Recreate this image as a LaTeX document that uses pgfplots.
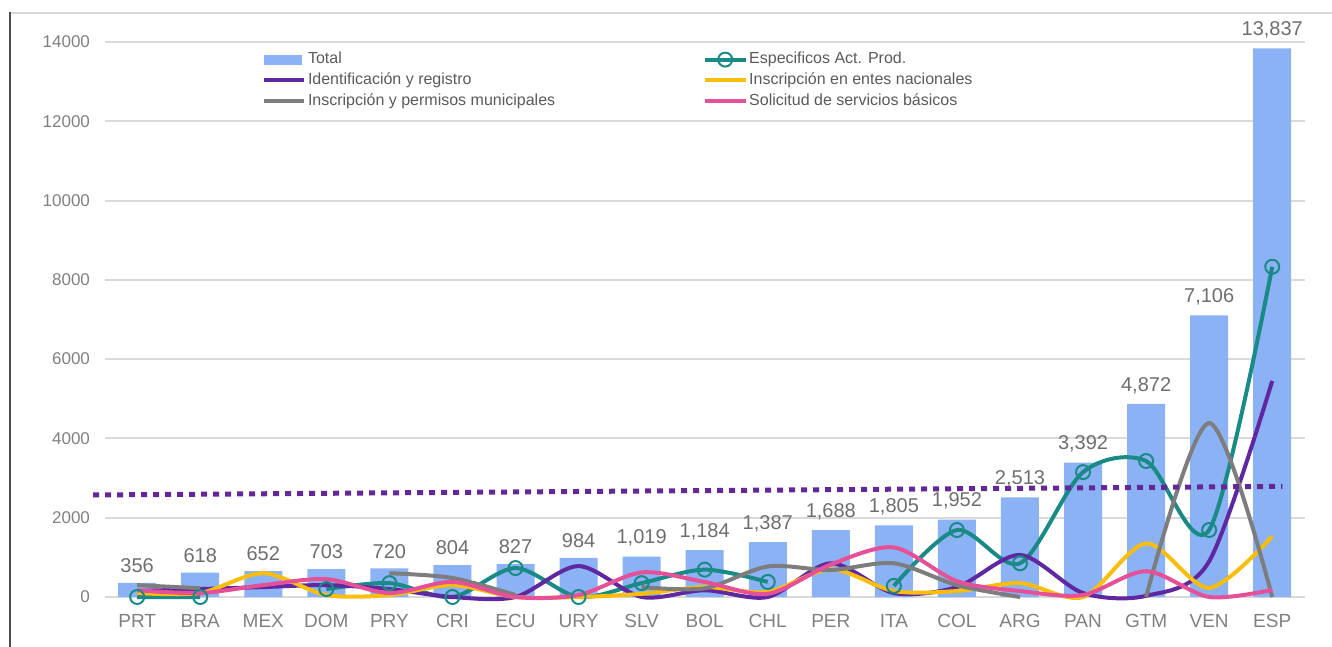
\documentclass[border=0pt]{standalone}
\usepackage{fontspec}
\setmainfont{Liberation Sans}
\usepackage{pgfplots}
\pgfplotsset{compat=1.18}

\definecolor{barblue}{RGB}{138,178,245}
\definecolor{cteal}{RGB}{26,138,134}
\definecolor{cpurple}{RGB}{95,40,160}
\definecolor{cyellow}{RGB}{250,190,10}
\definecolor{cgray}{RGB}{125,125,125}
\definecolor{cpink}{RGB}{230,80,150}
\definecolor{dotpurple}{RGB}{100,40,150}
\definecolor{tickgray}{RGB}{128,128,128}
\definecolor{labgray}{RGB}{110,110,110}
\definecolor{leggray}{RGB}{90,90,90}

\begin{document}
\begin{tikzpicture}
% frame of the original slide
\draw[black!15, line width=1pt] (5pt,317pt) -- (666pt,317pt);
\draw[black!70, line width=1pt] (5pt,317.5pt) -- (5pt,0pt);

\begin{axis}[
    at={(52.5pt,25pt)}, anchor=south west,
    scale only axis, width=600pt, height=277.5pt,
    xmin=-0.51, xmax=18.52, ymin=0, ymax=14000,
    clip=false,
    axis line style={draw=none},
    tick style={draw=none},
    ytick={0,2000,...,14000},
    scaled y ticks=false,
    xtick={0,...,18},
    xticklabels={PRT,BRA,MEX,DOM,PRY,CRI,ECU,URY,SLV,BOL,CHL,PER,ITA,COL,ARG,PAN,GTM,VEN,ESP},
    ymajorgrids,
    grid style={black!15, line width=1pt},
    /pgf/number format/assume math mode=true,
    /pgf/number format/1000 sep={},
    yticklabel style={font=\fontsize{8.5}{10}\selectfont, text=tickgray},
    xticklabel style={font=\fontsize{9.5}{11}\selectfont, text=tickgray},
    yticklabel shift=4pt,
    xticklabel shift=5pt,
    unbounded coords=jump,
    legend columns=2,
    legend cell align=left,
    legend style={at={(0.1255,0.993)}, anchor=north west, draw=none, fill=none,
        font=\fontsize{8}{9}\selectfont, text=leggray,
        nodes={inner sep=1pt}, row sep=0.9pt,
        /tikz/every even column/.append style={column sep=73pt}},
    legend image code/.code={\draw[mark repeat=2, mark phase=2, #1] plot coordinates {(0pt,0pt) (10pt,0pt) (20pt,0pt)};},
]
\addplot[ybar, bar width=19pt, fill=barblue, draw=none,
    nodes near coords={\pgfmathprintnumber[1000 sep={,}]{\pgfplotspointmeta}},
    every node near coord/.append style={font=\fontsize{10}{12}\selectfont, text=labgray, yshift=1.5pt},
    legend image code/.code={\fill[barblue] (0pt,-2.5pt) rectangle (19pt,2.5pt);}]
coordinates {(0,356) (1,618) (2,652) (3,703) (4,720) (5,804) (6,827) (7,984) (8,1019) (9,1184)
 (10,1387) (11,1688) (12,1805) (13,1952) (14,2513) (15,3392) (16,4872) (17,7106) (18,13837)};
\addlegendentry{Total}

\addplot[cteal, line width=2pt, smooth, mark=o, mark size=3.5pt, mark options={line width=1pt}]
coordinates {(0,0) (1,0) (2,nan) (3,200) (4,350) (5,0) (6,730) (7,0) (8,350) (9,690)
 (10,380) (11,nan) (12,280) (13,1690) (14,850) (15,3150) (16,3430) (17,1690) (18,8330)};
\addlegendentry{Especificos Act. Prod.}

\addplot[cpurple, line width=2pt, smooth]
coordinates {(0,150) (1,200) (2,250) (3,300) (4,200) (5,0) (6,0) (7,780) (8,0) (9,170)
 (10,0) (11,850) (12,100) (13,250) (14,1060) (15,100) (16,30) (17,900) (18,5450)};
\addlegendentry{Identificación y registro}

\addplot[cyellow, line width=2pt, smooth]
coordinates {(0,100) (1,100) (2,600) (3,50) (4,50) (5,300) (6,0) (7,0) (8,80) (9,250)
 (10,130) (11,700) (12,150) (13,150) (14,350) (15,0) (16,1350) (17,230) (18,1530)};
\addlegendentry{Inscripción en entes nacionales}

\addplot[cgray, line width=2pt, smooth]
coordinates {(0,300) (1,220) (2,nan) (3,nan) (4,600) (5,480) (6,50) (7,nan) (8,250) (9,220)
 (10,770) (11,680) (12,850) (13,300) (14,0) (15,nan) (16,0) (17,4390) (18,0)};
\addlegendentry{Inscripción y permisos municipales}

\addplot[cpink, line width=2pt, smooth]
coordinates {(0,170) (1,100) (2,300) (3,450) (4,100) (5,380) (6,0) (7,50) (8,620) (9,380)
 (10,80) (11,820) (12,1250) (13,400) (14,150) (15,50) (16,650) (17,0) (18,180)};
\addlegendentry{Solicitud de servicios básicos}

\addplot[dotpurple, line width=2.5pt, dash pattern=on 3pt off 3pt, forget plot]
coordinates {(-0.70,2573) (18.16,2790)};
\end{axis}
\pgfresetboundingbox
\useasboundingbox (0pt,0pt) rectangle (666pt,323.5pt);
\end{tikzpicture}
\end{document}
